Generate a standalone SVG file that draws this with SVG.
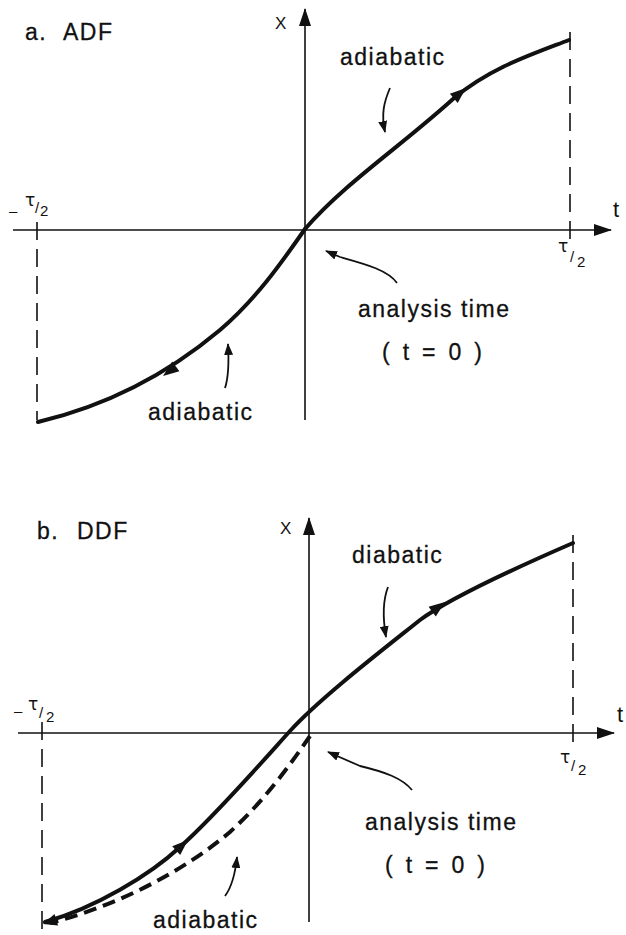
<svg xmlns="http://www.w3.org/2000/svg" width="626" height="935" viewBox="0 0 626 935">
<style>
.bg{fill:#fff}
.axis{stroke:#111;stroke-width:1.6;fill:none}
.vdash{stroke:#111;stroke-width:1.6;fill:none;stroke-dasharray:18 9}
.curve{stroke:#111;stroke-width:4;fill:none;stroke-linecap:round;stroke-linejoin:round}
.curvedash{stroke:#111;stroke-width:4;fill:none;stroke-dasharray:13 7}
.ptr{stroke:#111;stroke-width:1.8;fill:none}
.head{fill:#111}
.lbl{font-family:"Liberation Sans",Arial,sans-serif;font-size:23px;fill:#111;stroke:#111;stroke-width:0.3;letter-spacing:1.5px}
.eq{letter-spacing:3.3px}
.title{font-family:"Liberation Sans",Arial,sans-serif;font-size:23px;fill:#111;stroke:#111;stroke-width:0.3;letter-spacing:1.5px}
.ax{font-family:"Liberation Sans",Arial,sans-serif;fill:#111}
.tau{font-family:"DejaVu Sans",sans-serif;font-size:17px;fill:#111}
.sm{font-family:"Liberation Sans",Arial,sans-serif;font-size:15px;fill:#111}
</style>
<defs>
<marker id="axh" viewBox="0 0 18 12" refX="17" refY="6" markerWidth="18" markerHeight="12" markerUnits="userSpaceOnUse" orient="auto">
<path d="M0,0 L18,6 L0,12 Z" fill="#111"/>
</marker>
<marker id="ph" viewBox="0 0 12 9" refX="11" refY="4.5" markerWidth="12" markerHeight="9" markerUnits="userSpaceOnUse" orient="auto">
<path d="M0,0 L12,4.5 L0,9 Z" fill="#111"/>
</marker>
</defs>
<rect class="bg" x="0" y="0" width="626" height="935"/>

<!-- Panel a -->
<g id="panel-a-axes">
<line class="axis" x1="13" y1="230" x2="611" y2="230" marker-end="url(#axh)"/>
<line class="axis" x1="305" y1="420" x2="305" y2="9" marker-end="url(#axh)"/>
<line class="vdash" x1="37" y1="222" x2="37" y2="420"/>
<line class="vdash" x1="570" y1="32" x2="570" y2="240"/>
</g>
<g id="panel-a-labels">
<text class="title" x="25" y="40">a.</text>
<text class="title" x="63" y="40">ADF</text>
<text class="ax" x="275" y="29" font-size="17">X</text>
<text class="ax" x="613" y="217" font-size="22">t</text>
<text class="sm" x="9" y="216">–</text>
<text class="tau" x="25" y="206">τ</text>
<text class="sm" x="35" y="213">/</text>
<text class="sm" x="40" y="216">2</text>
<text class="tau" x="558" y="252">τ</text>
<text class="sm" x="570" y="262">/</text>
<text class="sm" x="577" y="267">2</text>
</g>
<g id="a-curve-up">
<path class="curve" d="M305,229 C345,183 400,147 453,99 C490,68 530,55 569,40"/>
<polygon class="head" points="466,88 457.7,103 449.9,93.8"/>
</g>
<g id="a-curve-down">
<path class="curve" d="M305,229 C280,265 255,300 220,330 C170,372 110,405 38,422"/>
<polygon class="head" points="163,376 179.4,371.2 172.2,361.6"/>
</g>
<g id="a-label-adiabatic-top">
<text class="lbl" x="340" y="65">adiabatic</text>
<path class="ptr" d="M390,88 C384,102 381,114 385,132" marker-end="url(#ph)"/>
</g>
<g id="a-label-adiabatic-bottom">
<text class="lbl" x="148" y="420">adiabatic</text>
<path class="ptr" d="M225,388 C229,376 229,362 228,344" marker-end="url(#ph)"/>
</g>
<g id="a-label-analysis">
<text class="lbl" x="358" y="317">analysis time</text>
<text class="lbl eq" x="382" y="360">( t = 0 )</text>
<path class="ptr" d="M397,283 C388,270 365,264 340,257 L326,251" marker-end="url(#ph)"/>
</g>

<!-- Panel b -->
<g id="panel-b-axes">
<line class="axis" x1="18" y1="733" x2="614" y2="733" marker-end="url(#axh)"/>
<line class="axis" x1="309" y1="922" x2="309" y2="518" marker-end="url(#axh)"/>
<line class="vdash" x1="42" y1="722" x2="42" y2="932"/>
<line class="vdash" x1="573" y1="535" x2="573" y2="745"/>
</g>
<g id="panel-b-labels">
<text class="title" x="37" y="539">b.</text>
<text class="title" x="77" y="539">DDF</text>
<text class="ax" x="280" y="534" font-size="17">X</text>
<text class="ax" x="617" y="722" font-size="22">t</text>
<text class="sm" x="14" y="716">–</text>
<text class="tau" x="28" y="710">τ</text>
<text class="sm" x="39" y="718">/</text>
<text class="sm" x="46" y="722">2</text>
<text class="tau" x="560" y="763">τ</text>
<text class="sm" x="571" y="771">/</text>
<text class="sm" x="578" y="775">2</text>
</g>
<g id="b-curve-diabatic">
<path class="curve" d="M45,922 C95,908 150,875 180,847 C215,816 270,753 290,731 C320,698 385,648 420,620 C450,598 520,566 573,543"/>
<polygon class="head" points="188,840 180.2,855.1 172.2,846.3"/>
<polygon class="head" points="445,602 435.8,616.4 428.6,606.8"/>
</g>
<g id="b-curve-adiabatic">
<path class="curvedash" d="M310,736 C290,765 265,800 230,832 C185,870 120,905 50,923"/>
<polygon class="head" points="43,924 58.1,925.5 54.5,914.1"/>
</g>
<g id="b-label-diabatic">
<text class="lbl" x="352" y="563">diabatic</text>
<path class="ptr" d="M388,587 C383,600 382,614 386,637" marker-end="url(#ph)"/>
</g>
<g id="b-label-adiabatic">
<text class="lbl" x="153" y="928">adiabatic</text>
<path class="ptr" d="M225,896 C231,888 235,876 237,857" marker-end="url(#ph)"/>
</g>
<g id="b-label-analysis">
<text class="lbl" x="365" y="830">analysis time</text>
<text class="lbl eq" x="385" y="873">( t = 0 )</text>
<path class="ptr" d="M412,790 C402,778 385,772 360,766 L328,752" marker-end="url(#ph)"/>
</g>
</svg>
